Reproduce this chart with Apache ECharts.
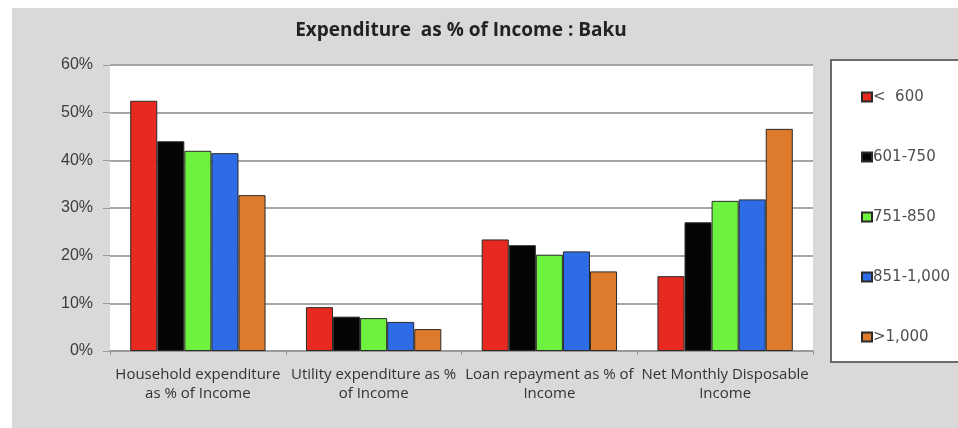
<!DOCTYPE html>
<html>
<head>
<meta charset="utf-8">
<style>
  html, body { margin: 0; padding: 0; background: #ffffff; }
  #chart { width: 958px; height: 428px; }
</style>
<script src="https://cdn.jsdelivr.net/npm/echarts@6/dist/echarts.min.js"></script>
</head>
<body>
<div id="chart"></div>
<script>
// Expenditure shares by income band, Baku (percent of income)
const categories = [
  'Household expenditure\nas % of Income',
  'Utility expenditure as %\nof Income',
  'Loan repayment as % of\nIncome',
  'Net Monthly Disposable\nIncome'
];
const bands = ['<  600', '601-750', '751-850', '851-1,000', '>1,000'];
const below600 = [52.5, 9.2, 23.4, 15.7];
const from601to750 = [44.0, 7.2, 22.2, 27.0];
const from751to850 = [42.0, 6.9, 20.2, 31.5];
const from851to1000 = [41.5, 6.1, 20.9, 31.8];
const above1000 = [32.7, 4.6, 16.7, 46.6];
const yTicks = [0, 10, 20, 30, 40, 50, 60];

const bandValues = [below600, from601to750, from751to850, from851to1000, above1000];
const bandColors = ['#e8291f', '#050505', '#6cf23f', '#2d6ce6', '#dd7a2c'];

const chart = echarts.init(document.getElementById('chart'), null, { renderer: 'canvas' });

chart.setOption({
  animation: false,
  backgroundColor: '#ffffff',
  graphic: [
    { type: 'rect', z: -10, silent: true,
      shape: { x: 12, y: 8, width: 1000, height: 440 },
      style: { fill: '#d9d9d9' } },
    // legend panel runs off the right edge, so only its top, left and bottom sides show
    { type: 'rect', z: -6, silent: true,
      shape: { x: 831, y: 60, width: 200, height: 302 },
      style: { fill: '#ffffff' } },
    { type: 'polyline', z: -5, silent: true,
      shape: { points: [[1000, 60], [831, 60], [831, 362], [1000, 362]] },
      style: { fill: null, stroke: '#6a6a6a', lineWidth: 2 } }
  ],
  title: {
    text: 'Expenditure  as % of Income : Baku',
    left: 456,
    top: 16,
    textAlign: 'center',
    textStyle: { fontFamily: 'Open Sans', fontWeight: 'bold', fontSize: 19, color: '#222222' }
  },
  legend: {
    orient: 'vertical',
    left: 856,
    top: 84,
    itemWidth: 10,
    itemHeight: 9,
    itemGap: 44,
    icon: 'rect',
    data: bands,
    textStyle: { fontFamily: 'DejaVu Sans', fontSize: 15, color: '#505050', lineHeight: 16, padding: [0, 0, 0, -4] }
  },
  grid: {
    left: 110, right: 145, top: 65, bottom: 77,
    show: true, backgroundColor: '#ffffff', borderWidth: 0
  },
  xAxis: {
    type: 'category',
    data: categories,
    axisLine: { lineStyle: { color: '#9a9a9a', width: 2 } },
    axisTick: { show: true, lineStyle: { color: '#9a9a9a' }, length: 4 },
    axisLabel: {
      interval: 0,
      margin: 14,
      fontFamily: 'Open Sans',
      fontSize: 15,
      lineHeight: 19,
      color: '#333333'
    }
  },
  yAxis: {
    type: 'value',
    min: yTicks[0],
    max: yTicks[yTicks.length - 1],
    interval: 10,
    axisLine: { show: false },
    axisTick: { show: true, length: 7, lineStyle: { color: '#9a9a9a', width: 1 } },
    splitLine: { lineStyle: { color: '#a6a6a6', width: 2 } },
    axisLabel: {
      formatter: '{value}%',
      margin: 17,
      fontFamily: 'Liberation Sans',
      fontSize: 16,
      color: '#3c3c3c'
    }
  },
  series: bands.map((name, i) => ({
    name: name,
    type: 'bar',
    data: bandValues[i],
    barGap: '0%',
    barCategoryGap: '23%',
    itemStyle: { color: bandColors[i], borderColor: '#2a2a2a', borderWidth: 1 }
  }))
});
</script>
</body>
</html>
